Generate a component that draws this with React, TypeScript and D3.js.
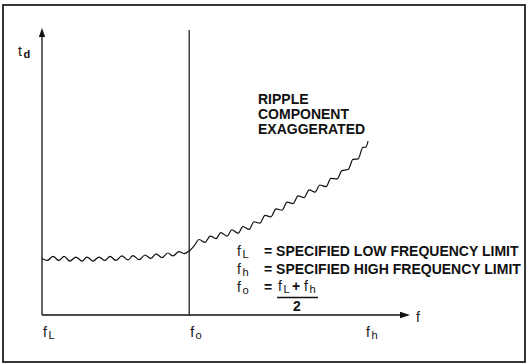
import * as d3 from "d3";

// frequency axis positions (f_L = 0, f_o = 40, f_h ≈ 88, arrow end = 100)
const tickValues = [0, 40, 87.8];
const tickSubs = ["L", "o", "h"];

// delay curve with exaggerated ripple
const curveFreq = [
  0, 1.4, 3.0, 4.6, 6.0, 7.6, 9.2, 10.9, 12.2, 13.9, 15.5, 17.1, 18.5, 20.1,
  21.7, 23.4, 24.7, 26.4, 28.0, 29.6, 31.0, 32.6, 34.2, 35.6, 37.2, 38.6, 40.0,
  41.3, 42.7, 44.3, 45.7, 47.3, 48.6, 50.3, 51.6, 53.3, 54.6, 56.3, 57.6, 59.2,
  60.6, 62.2, 63.6, 65.2, 66.6, 68.2, 69.6, 71.2, 72.6, 74.2, 75.5, 77.2, 78.5,
  80.2, 81.5, 83.2, 84.5, 85.9, 87.2, 88.0, 88.6,
];
const curveDelay = [
  19.7, 19.0, 20.4, 19.0, 20.4, 18.8, 20.2, 18.8, 20.2, 18.8, 20.2, 19.0, 20.4,
  19.0, 20.6, 19.2, 20.7, 19.3, 20.9, 19.7, 21.3, 20.0, 21.6, 20.6, 22.1, 21.4,
  22.3, 24.0, 26.3, 25.3, 27.5, 26.6, 28.7, 27.5, 29.7, 28.5, 30.8, 29.8, 32.5,
  32.0, 34.7, 34.2, 37.0, 36.5, 39.3, 38.8, 41.5, 40.9, 43.6, 42.8, 45.3, 44.7,
  47.6, 47.4, 50.3, 50.7, 54.2, 54.4, 58.4, 58.5, 60.6,
];

const noteLines = ["RIPPLE", "COMPONENT", "EXAGGERATED"];
const legendSubs = ["L", "h"];
const legendTexts = [
  "SPECIFIED LOW FREQUENCY LIMIT",
  "SPECIFIED HIGH FREQUENCY LIMIT",
];

const width = 526;
const height = 363;
const ink = "#111";
const capFont = "'Liberation Sans', Arial, sans-serif";

function FSym({
  x,
  y,
  sub,
  size = 14,
}: {
  x: number;
  y: number;
  sub: string;
  size?: number;
}) {
  return (
    <text x={x} y={y} fontSize={size} fontFamily={capFont} fill={ink}>
      f
      <tspan dx={1.5} dy={2} fontSize={size * 0.8}>
        {sub}
      </tspan>
    </text>
  );
}

export default function App() {
  const x = d3.scaleLinear().domain([0, 100]).range([42, 410]);
  const y = d3.scaleLinear().domain([0, 100]).range([315, 28]);

  const line = d3
    .line<number>()
    .x((d) => x(d))
    .y((_, i) => y(curveDelay[i]))
    .curve(d3.curveMonotoneX);

  const x0 = x(0);
  const y0 = y(0);
  const yTop = y(100);
  const xEnd = x(100);
  const fo = x(tickValues[1]);

  return (
    <svg
      width={width}
      height={height}
      style={{ position: "fixed", left: 0, top: 0, background: "#fff" }}
    >
      {/* frame */}
      <rect
        x={3}
        y={5}
        width={522}
        height={357}
        fill="none"
        stroke="#222"
        strokeWidth={1.8}
      />

      {/* axes */}
      <line x1={x0} x2={x0} y1={y0} y2={yTop + 6} stroke={ink} strokeWidth={1.3} />
      <path
        d={`M${x0},${yTop} L${x0 - 3.2},${yTop + 9} L${x0 + 3.2},${yTop + 9} Z`}
        fill={ink}
      />
      <line x1={x0} x2={xEnd - 6} y1={y0} y2={y0} stroke={ink} strokeWidth={1.3} />
      <path
        d={`M${xEnd},${y0} L${xEnd - 10},${y0 - 3.3} L${xEnd - 10},${y0 + 3.3} Z`}
        fill={ink}
      />

      {/* centre frequency marker */}
      <line x1={fo} x2={fo} y1={y(99.3)} y2={y0} stroke={ink} strokeWidth={1.2} />

      {/* delay curve */}
      <path d={line(curveFreq) ?? ""} fill="none" stroke={ink} strokeWidth={1.2} />

      {/* axis labels */}
      <text x={18} y={56} fontSize={14} fontFamily={capFont} fill={ink}>
        t
        <tspan dx={1.5} dy={2} fontSize={11} fontWeight="bold">
          d
        </tspan>
      </text>
      <text x={xEnd + 6} y={y0 + 7} fontSize={14} fontFamily={capFont} fill={ink}>
        f
      </text>
      {tickValues.map((v, i) => (
        <FSym key={tickSubs[i]} x={x(v) + 1} y={337} sub={tickSubs[i]} />
      ))}

      {/* ripple note */}
      {noteLines.map((t, i) => (
        <text
          key={t}
          x={258}
          y={104 + i * 15}
          fontSize={14}
          fontWeight="bold"
          fontFamily={capFont}
          fill={ink}
        >
          {t}
        </text>
      ))}

      {/* legend */}
      {legendTexts.map((t, i) => (
        <g key={t}>
          <FSym x={237} y={256 + i * 18} sub={legendSubs[i]} />
          <text
            x={264}
            y={256 + i * 18}
            fontSize={14}
            fontWeight="bold"
            fontFamily={capFont}
            fill={ink}
          >
            = {t}
          </text>
        </g>
      ))}
      <FSym x={237} y={292} sub="o" />
      <text x={264} y={292} fontSize={14} fontWeight="bold" fontFamily={capFont} fill={ink}>
        =
      </text>
      <FSym x={278} y={291} sub="L" />
      <text x={292} y={291} fontSize={14} fontWeight="bold" fontFamily={capFont} fill={ink}>
        +
      </text>
      <FSym x={304} y={291} sub="h" />
      <line x1={277} x2={318} y1={297.5} y2={297.5} stroke={ink} strokeWidth={1.3} />
      <text
        x={297}
        y={311}
        fontSize={14}
        fontWeight="bold"
        textAnchor="middle"
        fontFamily={capFont}
        fill={ink}
      >
        2
      </text>
    </svg>
  );
}
